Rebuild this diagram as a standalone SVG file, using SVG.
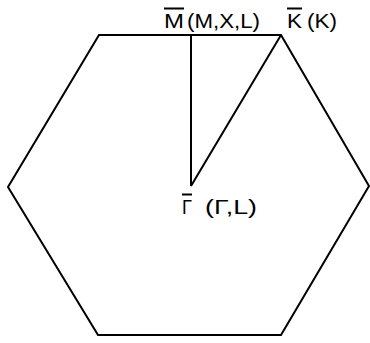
<svg xmlns="http://www.w3.org/2000/svg" width="370" height="343" viewBox="0 0 370 343">
<style>
.ln{fill:none;stroke:#000;stroke-width:2;stroke-linejoin:miter}
.t{font-family:"Liberation Sans",Arial,sans-serif;font-size:20px;fill:#000}
.ov{text-decoration:overline}
</style>
<rect width="370" height="343" fill="#fff"/>
<g id="hexagon">
<polygon class="ln" points="99,35 281,35 369,186 281,335 98,335 8,187"/>
</g>
<g id="connectors">
<line class="ln" x1="191" y1="35" x2="191" y2="186"/>
<line class="ln" x1="191" y1="186" x2="281" y2="35"/>
</g>
<g id="node-M">
<text class="t ov" x="164" y="27.5" textLength="20" lengthAdjust="spacingAndGlyphs">M</text>
<text class="t" x="187" y="27.5" textLength="73" lengthAdjust="spacingAndGlyphs">(M,X,L)</text>
</g>
<g id="node-K">
<text class="t ov" x="287" y="27.5" textLength="15" lengthAdjust="spacingAndGlyphs">K</text>
<text class="t" x="307" y="27.5" textLength="30" lengthAdjust="spacingAndGlyphs">(K)</text>
</g>
<g id="node-Gamma">
<text class="t ov" x="182" y="213.5" textLength="10" lengthAdjust="spacingAndGlyphs">Γ</text>
<text class="t" x="205" y="213.5" textLength="52" lengthAdjust="spacingAndGlyphs">(Γ,L)</text>
</g>
</svg>
